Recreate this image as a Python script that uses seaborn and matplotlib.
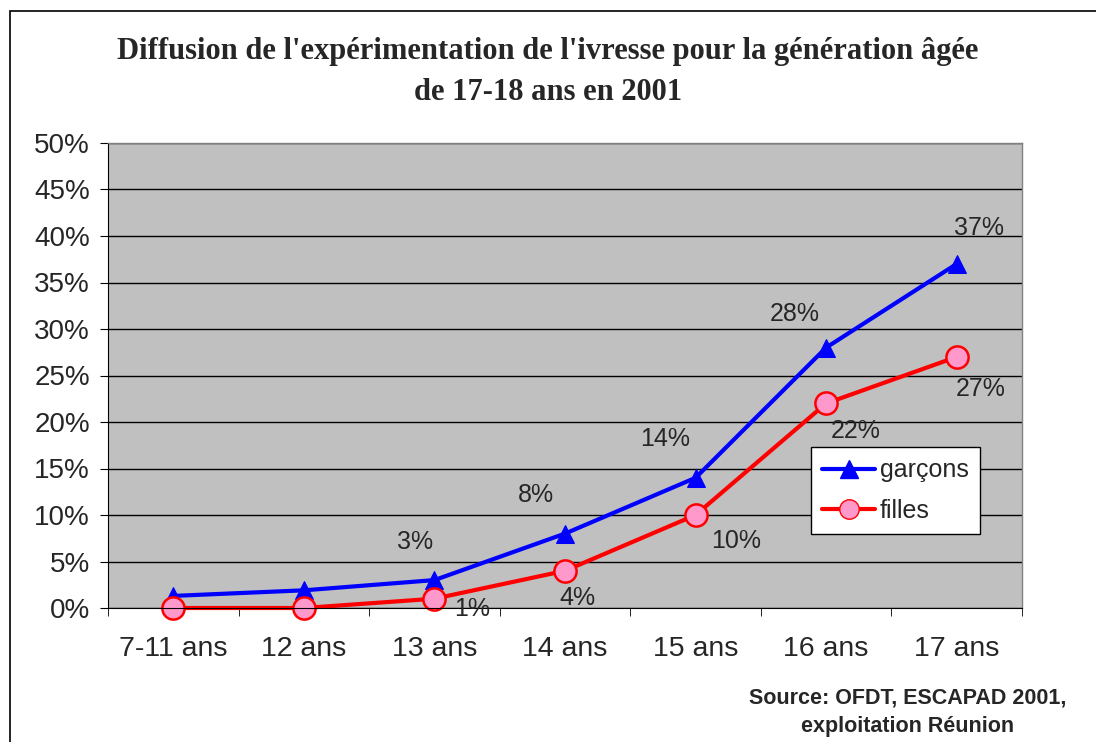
import pandas as pd
import seaborn as sns
import matplotlib.pyplot as plt
from matplotlib.patches import Rectangle
from matplotlib.lines import Line2D

# Data
ages = ["7-11 ans", "12 ans", "13 ans", "14 ans", "15 ans", "16 ans", "17 ans"]
garcons = [1.3, 1.9, 3, 8, 14, 28, 37]
filles = [0, 0, 1, 4, 10, 22, 27]
garcons_labels = ["", "", "3%", "8%", "14%", "28%", "37%"]
filles_labels = ["", "", "1%", "4%", "10%", "22%", "27%"]

# label offsets in pixels (x right, y up)
garcons_off = [(0, 0), (0, 0), (-19, 38), (-29, 39), (-30, 39), (-31, 34), (22, 36)]
filles_off = [(0, 0), (0, 0), (38, -10), (12, -27), (41, -26), (30, -28), (24, -32)]

df = pd.DataFrame({"age": ages * 2,
                   "pct": garcons + filles,
                   "sexe": ["garçons"] * 7 + ["filles"] * 7})

sns.set_style("white")
plt.rcParams["font.family"] = ["Liberation Sans", "DejaVu Sans"]

fig = plt.figure(figsize=(10.96, 7.42), dpi=100)
ax = fig.add_axes([108 / 1096, 1 - 608 / 742, 914 / 1096, 465 / 742])

sns.lineplot(data=df, x="age", y="pct", hue="sexe", style="sexe",
             palette={"garçons": "#0000FF", "filles": "#FF0000"},
             markers={"garçons": "^", "filles": "o"},
             dashes=False, linewidth=3, sort=False, ax=ax, legend=False)

# marker styling per line
lines = ax.get_lines()
lines[0].set_markersize(13)
lines[0].set_markerfacecolor("#0000FF")
lines[0].set_markeredgecolor("#0000FF")
lines[1].set_markersize(16)
lines[1].set_markerfacecolor("#FF99CC")
lines[1].set_markeredgecolor("#FF0000")
lines[1].set_markeredgewidth(1.8)
for ln in lines:
    ln.set_clip_on(False)

ax.set_facecolor("#C0C0C0")
ax.set_xlim(-0.5, 6.5)
ax.set_ylim(0, 50)
ax.set_yticks(range(0, 51, 5))
ax.set_yticklabels([f"{v}%" for v in range(0, 51, 5)], fontsize=20)
ax.set_xticks(range(len(ages)))
ax.set_xticklabels(ages, fontsize=20.5)
ax.set_xticks([i - 0.5 for i in range(len(ages) + 1)], minor=True)
ax.tick_params(axis="x", which="major", length=0, pad=20)
ax.tick_params(axis="x", which="minor", length=6, color="black", direction="out", bottom=True)
ax.tick_params(axis="y", length=6, color="black", direction="out", left=True, pad=7)
ax.set_xlabel("")
ax.set_ylabel("")
ax.grid(axis="y", color="black", linewidth=1)
ax.set_axisbelow(True)
for side in ["top", "right"]:
    ax.spines[side].set_color("#808080")
    ax.spines[side].set_linewidth(1)
ax.spines["left"].set_color("black")
ax.spines["bottom"].set_color("black")

# data labels
for i, (v, lab) in enumerate(zip(garcons, garcons_labels)):
    if lab:
        t = ax.annotate(lab, (i, v), xytext=garcons_off[i], textcoords="offset pixels",
                        ha="center", va="center", fontsize=18)
        t.set_clip_on(True)
for i, (v, lab) in enumerate(zip(filles, filles_labels)):
    if lab:
        t = ax.annotate(lab, (i, v), xytext=filles_off[i], textcoords="offset pixels",
                        ha="center", va="center", fontsize=18)
        t.set_clip_on(True)

# legend
handles = [Line2D([], [], color="#0000FF", lw=3, marker="^", markersize=13),
           Line2D([], [], color="#FF0000", lw=3, marker="o", markersize=14,
                  markerfacecolor="#FF99CC", markeredgecolor="#FF0000")]
leg = ax.legend(handles, ["garçons", "filles"], loc="upper left",
                bbox_to_anchor=((811 - 108) / 914, (608 - 447) / 465),
                fontsize=18, frameon=True, fancybox=False, framealpha=1,
                edgecolor="black", handlelength=2.1, handletextpad=0.2,
                borderpad=0.45, labelspacing=0.65, borderaxespad=0)
leg.get_frame().set_linewidth(1)

# title and source
fig.text(0.5, 1 - 72 / 742, "Diffusion de l'expérimentation de l'ivresse pour la génération âgée\nde 17-18 ans en 2001",
         ha="center", va="center", fontsize=22, fontweight="bold",
         family="Liberation Serif", linespacing=1.55)
fig.text(908 / 1096, 1 - 712 / 742, "Source: OFDT, ESCAPAD 2001,\nexploitation Réunion",
         ha="center", va="center", fontsize=15.5, fontweight="bold", linespacing=1.45)

# outer chart frame
fig.patches.append(Rectangle((10 / 1096, -0.1), 1.2, 1 - 11 / 742 + 0.1,
                             transform=fig.transFigure, fill=False,
                             edgecolor="black", linewidth=1.2))

fig.savefig("out.png", dpi=100)
